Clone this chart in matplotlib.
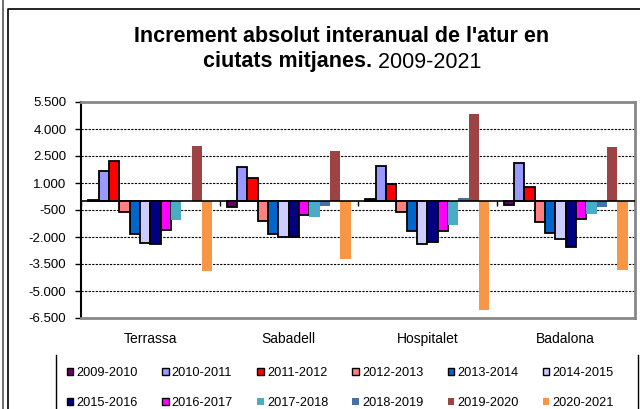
import matplotlib
matplotlib.use('Agg')
import matplotlib.pyplot as plt
import numpy as np
from matplotlib.patches import Patch
from matplotlib.lines import Line2D

plt.rcParams['font.family'] = ['Liberation Sans', 'DejaVu Sans']

cities = ['Terrassa', 'Sabadell', 'Hospitalet', 'Badalona']
periods = ['2009-2010', '2010-2011', '2011-2012', '2012-2013', '2013-2014', '2014-2015',
           '2015-2016', '2016-2017', '2017-2018', '2018-2019', '2019-2020', '2020-2021']

# values per period: Terrassa, Sabadell, Hospitalet, Badalona
v2009_2010 = [60, -360, 100, -240]
v2010_2011 = [1690, 1910, 1960, 2090]
v2011_2012 = [2240, 1280, 960, 800]
v2012_2013 = [-610, -1110, -590, -1190]
v2013_2014 = [-1840, -1840, -1670, -1780]
v2014_2015 = [-2340, -1980, -2410, -2130]
v2015_2016 = [-2410, -1980, -2280, -2560]
v2016_2017 = [-1610, -800, -1670, -980]
v2017_2018 = [-1060, -910, -1330, -700]
v2018_2019 = [-20, -260, 170, -350]
v2019_2020 = [3080, 2780, 4840, 3000]
v2020_2021 = [-3890, -3210, -6040, -3820]

series = [v2009_2010, v2010_2011, v2011_2012, v2012_2013, v2013_2014, v2014_2015,
          v2015_2016, v2016_2017, v2017_2018, v2018_2019, v2019_2020, v2020_2021]

colors = ['#660066', '#9999FF', '#FF0000', '#FF8080', '#0066CC', '#CCCCFF',
          '#000080', '#FF00FF', '#4BACC6', '#4571A5', '#9E4343', '#F79646']
edged = [True] * 8 + [False] * 4

yticks = np.arange(-6500, 5501, 1500)

W, H = 640, 409
fig = plt.figure(figsize=(W / 100, H / 100), dpi=100)
ax = fig.add_axes([81 / W, (H - 318) / H, 554 / W, 216 / H])

x = np.arange(len(cities))
n = len(series)
bw = 0.0746
for j, (vals, col, e) in enumerate(zip(series, colors, edged)):
    ax.bar(x + (j - (n - 1) / 2) * bw, vals, width=bw, color=col,
           edgecolor='black' if e else col, linewidth=1.3 if e else 0,
           zorder=3, label=periods[j])

ax.set_xlim(-0.5, len(cities) - 0.5)
ax.set_ylim(yticks[0], yticks[-1])
ax.set_yticks(yticks)
ax.set_yticklabels([f"{v:,}".replace(',', '.') for v in yticks], fontsize=9.5)
ax.tick_params(axis='y', direction='out', length=4, width=1, pad=6.5, color='black')
ax.set_xticks(x)
ax.set_xticklabels(cities, fontsize=10)
ax.tick_params(axis='x', length=0, pad=10)

for yv in yticks[1:-1]:
    ax.axhline(yv, color='black', lw=0.8, ls=(0, (2, 1.2)), zorder=1)
ax.axhline(0, color='black', lw=1.2, zorder=5)
ax.vlines(np.arange(len(cities) + 1) - 0.5, -260, 0, color='black', lw=1, zorder=5)

ax.spines['left'].set_color('black')
ax.spines['left'].set_linewidth(1.5)
for s in ['top', 'right', 'bottom']:
    ax.spines[s].set_color('#888888')
    ax.spines[s].set_linewidth(2)

# title
fs_t = 15.5
fig.text(342 / W, 1 - 37 / H, "Increment absolut interanual de l'atur en",
         ha='center', va='center', fontsize=fs_t, fontweight='bold')
fig.canvas.draw()
r = fig.canvas.get_renderer()
t1 = fig.text(0, 1 - 62 / H, "ciutats mitjanes.", ha='left', va='center',
              fontsize=fs_t, fontweight='bold')
t2 = fig.text(0, 1 - 62 / H, " 2009-2021", ha='left', va='center', fontsize=fs_t)
w1 = t1.get_window_extent(r).width
w2 = t2.get_window_extent(r).width
start = 342 - (w1 + w2) / 2
t1.set_x(start / W)
t2.set_x((start + w1) / W)

# legend
handles = [Patch(facecolor=c, edgecolor='black' if e else c, linewidth=1 if e else 0, label=p)
           for c, e, p in zip(colors, edged, periods)]
order = []
for c in range(6):
    order += [c, c + 6]
fig.legend([handles[i] for i in order], [periods[i] for i in order], ncol=6,
           loc='upper left', bbox_to_anchor=(67 / W, 1 - 367 / H), frameon=False,
           fontsize=9.2, handlelength=0.5, handleheight=0.5, handletextpad=0.25,
           columnspacing=1.9, labelspacing=1.4, borderpad=0, borderaxespad=0)

# chart frame lines
fig.add_artist(Line2D([8 / W, 8 / W, 1], [0, 1 - 9 / H, 1 - 9 / H], color='black', lw=1.2,
                      transform=fig.transFigure))
fig.add_artist(Line2D([3 / W, 3 / W], [0, 1], color='#555555', lw=1.2, transform=fig.transFigure))
fig.add_artist(Line2D([56 / W, 56 / W], [0, 1 - 355 / H], color='black', lw=1, transform=fig.transFigure))
fig.add_artist(Line2D([638 / W, 638 / W], [0, 1 - 355 / H], color='black', lw=1, transform=fig.transFigure))

fig.savefig('out.png', dpi=100)
